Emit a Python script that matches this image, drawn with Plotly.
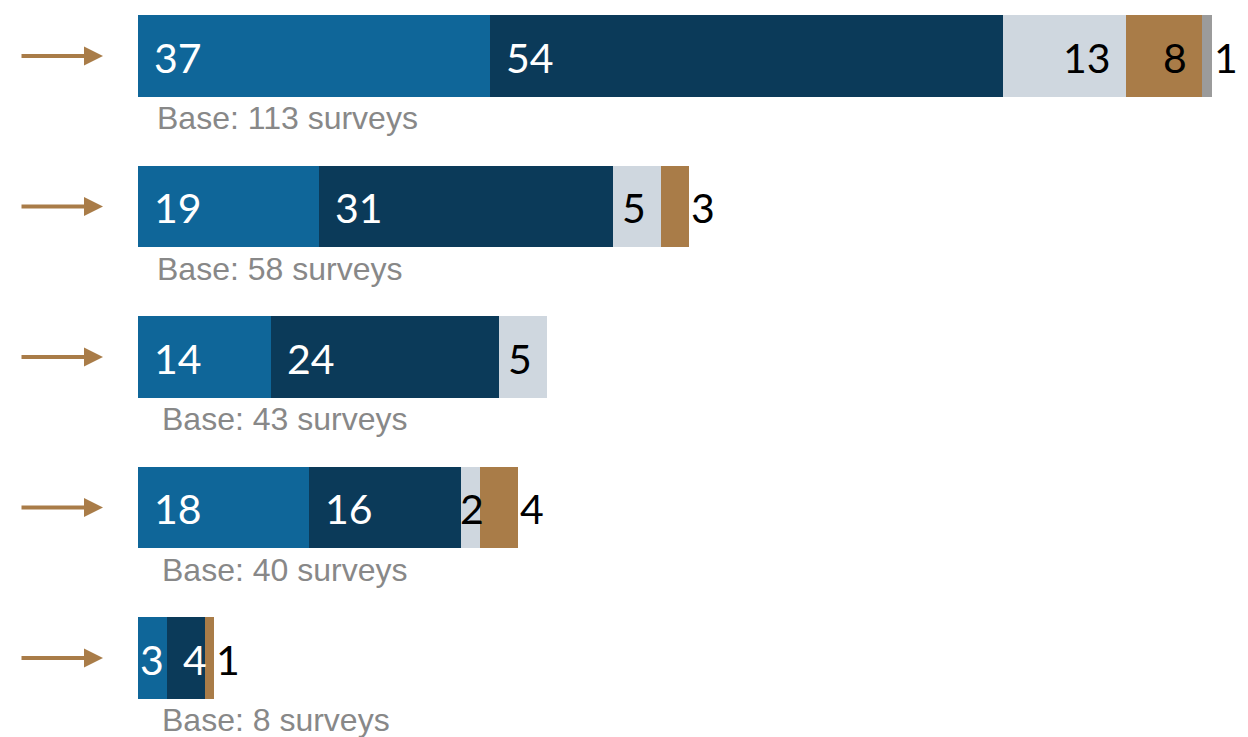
import plotly.graph_objects as go

# ---- data ----
rows = [0, 1, 2, 3, 4]
seg_blue = [37, 19, 14, 18, 3]
seg_navy = [54, 31, 24, 16, 4]
seg_light = [13, 5, 5, 2, 0]
seg_brown = [8, 3, 0, 4, 1]
seg_grey = [1, 0, 0, 0, 0]
bases = [113, 58, 43, 40, 8]

series = [seg_blue, seg_navy, seg_light, seg_brown, seg_grey]
colors = ["#0F6699", "#0B3A59", "#CFD7DF", "#A97C48", "#9B9B9B"]
text_colors = ["white", "white", "black", "black", "black"]

# ---- geometry / style ----
W, H = 1248, 737
page_off = 8.0  # default page margin around the figure
x0_px = 138.0 - page_off
px_per_unit = 9.5
row0_px = 56.0 - page_off
row_step = 150.5
num_font = dict(family="Lato", size=41)
base_font = dict(family="Liberation Sans, Arial", size=32, color="#888888")
base_shift = [17, 17, 22, 22, 22]
arrow_color = "#A97C48"

x_range = [-x0_px / px_per_unit, (W - x0_px) / px_per_unit]
y_range = [(H - row0_px) / row_step, -row0_px / row_step]

fig = go.Figure()
for vals, col in zip(series, colors):
    fig.add_trace(go.Bar(
        y=rows, x=vals, orientation="h", marker=dict(color=col, line=dict(width=0)),
        width=0.54, hoverinfo="skip", showlegend=False,
    ))

annotations = []
digit_w = 0.58 * num_font["size"]
for r in rows:
    start = 0
    nonzero = [k for k in range(len(series)) if series[k][r] > 0]
    last = nonzero[-1]
    for k, vals in enumerate(series):
        v = vals[r]
        if v <= 0:
            continue
        end = start + v
        wpx = v * px_per_unit
        tw = len(str(v)) * digit_w
        if k < 2:
            if wpx >= tw + 12:
                ax, anchor, shift = start, "left", 14
            else:
                ax, anchor, shift = (start + end) / 2, "center", 0
        else:
            if wpx >= tw + 22:
                ax, anchor, shift = end, "right", -13
            elif k == last:
                ax, anchor, shift = end, "left", 0
            else:
                ax, anchor, shift = (start + end) / 2, "center", 1
        annotations.append(dict(
            x=ax, y=r, xref="x", yref="y", text=str(v), showarrow=False,
            xanchor=anchor, yanchor="middle", xshift=shift, yshift=-1,
            font=dict(num_font, color=text_colors[k]),
        ))
        start = end
    # base label
    annotations.append(dict(
        x=0, y=r, xref="x", yref="y", text=f"Base: {bases[r]} surveys",
        showarrow=False, xanchor="left", yanchor="middle",
        xshift=base_shift[r], yshift=-62, font=base_font,
    ))
    # arrow
    annotations.append(dict(
        x=(103 - 138.0) / px_per_unit, y=r, ax=(20 - 138.0) / px_per_unit, ay=r,
        xref="x", yref="y", axref="x", ayref="y", text="", showarrow=True,
        arrowhead=2, arrowwidth=4, arrowsize=0.95, arrowcolor=arrow_color,
    ))

fig.update_layout(
    barmode="stack",
    width=W, height=H,
    margin=dict(l=0, r=0, t=0, b=0),
    paper_bgcolor="white", plot_bgcolor="white",
    xaxis=dict(range=x_range, visible=False, fixedrange=True),
    yaxis=dict(range=y_range, visible=False, fixedrange=True),
    annotations=annotations,
    showlegend=False,
)

fig.write_html("out.html")
